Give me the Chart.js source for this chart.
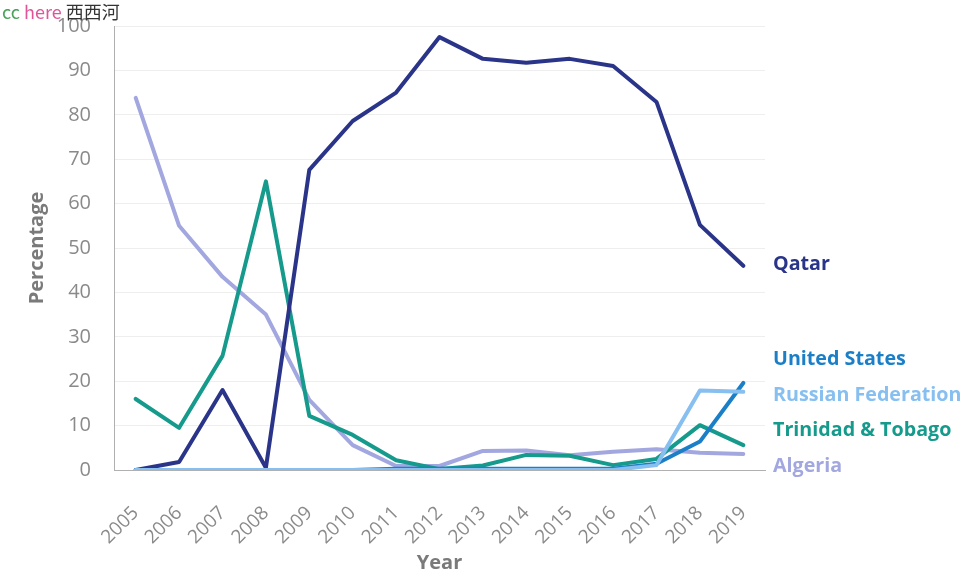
<!DOCTYPE html>
<html><head><meta charset="utf-8">
<script src="https://cdn.jsdelivr.net/npm/chart.js@4/dist/chart.umd.min.js"></script>
<style>
html,body{margin:0;padding:0;background:#fff;}
#wrap{position:relative;width:974px;height:582px;}
#wm{position:absolute;left:2px;top:0px;font-family:"Noto Sans CJK SC","Noto Sans",sans-serif;font-size:18px;line-height:22px;z-index:2;}
</style></head>
<body><div id="wrap"><div id="wm"><span style="color:#4aa35a">cc</span> <span style="color:#e0559a">here</span> <span style="color:#333">西西河</span></div>
<canvas id="c" width="974" height="582"></canvas></div>
<script>
const years = ["2005","2006","2007","2008","2009","2010","2011","2012","2013","2014","2015","2016","2017","2018","2019"];
const qatar = [0, 1.8, 18, 0.5, 67.6, 78.6, 85, 97.5, 92.6, 91.7, 92.6, 91, 82.9, 55.2, 46];
const unitedStates = [0, 0, 0, 0, 0, 0, 0.3, 0.3, 0.3, 0.3, 0.3, 0.3, 1.4, 6.4, 19.6];
const russia = [0, 0, 0, 0, 0, 0, 0, 0, 0, 0, 0, 0, 1.1, 17.9, 17.6];
const trinidad = [16, 9.5, 25.7, 65, 12.2, 7.9, 2.2, 0.2, 1, 3.4, 3.2, 1.1, 2.5, 10.1, 5.6];
const algeria = [83.8, 55, 43.5, 35, 15.8, 5.6, 0.9, 0.9, 4.3, 4.4, 3.3, 4.1, 4.7, 3.9, 3.6];
const yTicks = [0,10,20,30,40,50,60,70,80,90,100];
const seriesNames = ["Qatar","United States","Russian Federation","Trinidad & Tobago","Algeria"];

const colors = {q:"#2a3589", us:"#1b7fc8", ru:"#86bff0", tt:"#159a8c", al:"#a2a7e0"};
const labelPlugin = {
  id:"endLabels",
  afterDraw(chart){
    const ctx = chart.ctx;
    ctx.save();
    ctx.font = "bold 19.7px 'Open Sans'";
    ctx.textBaseline = "middle";
    ctx.textAlign = "left";
    const x = 773;
    const items = [[seriesNames[0],colors.q,264],[seriesNames[1],colors.us,359],[seriesNames[2],colors.ru,395],[seriesNames[3],colors.tt,430],[seriesNames[4],colors.al,466]];
    for (const [t,c,y] of items){ ctx.fillStyle=c; ctx.fillText(t,x,y); }
    ctx.restore();
  }
};
const ds = (label,data,color,order)=>({label,data,borderColor:color,backgroundColor:color,borderWidth:4,pointRadius:0,tension:0,order,borderJoinStyle:"round",borderCapStyle:"round"});
new Chart(document.getElementById("c"),{
  type:"line",
  data:{labels:years,datasets:[
    ds(seriesNames[4],algeria,colors.al,5),
    ds(seriesNames[3],trinidad,colors.tt,4),
    ds(seriesNames[0],qatar,colors.q,3),
    ds(seriesNames[1],unitedStates,colors.us,2),
    ds(seriesNames[2],russia,colors.ru,1)
  ]},
  options:{
    responsive:false,animation:false,
    layout:{padding:{left:0,right:209,top:26,bottom:0}},
    plugins:{legend:{display:false},tooltip:{enabled:false}},
    scales:{
      x:{offset:true,
        afterFit(s){s.paddingLeft=0;s.paddingRight=0;s.height=112;},
        grid:{display:false,drawTicks:false},
        border:{color:"#b0b0b0",width:1},
        ticks:{color:"#8a8a8a",font:{family:"'Open Sans'",size:19},maxRotation:45,minRotation:45,padding:32},
        title:{display:true,text:"Year",color:"#7a7a7a",font:{family:"'Open Sans'",size:20,weight:"bold"},padding:{top:0,bottom:7}}
      },
      y:{min:0,max:100,
        afterBuildTicks(s){s.ticks=yTicks.map(v=>({value:v}));},
        afterFit(s){s.width=114;s.paddingTop=0;s.paddingBottom=0;},
        grid:{color:"#eeeeee",drawTicks:false},
        border:{color:"#b0b0b0",width:1},
        ticks:{color:"#8a8a8a",font:{family:"'Open Sans'",size:20},padding:23},
        title:{display:true,text:"Percentage",color:"#7a7a7a",font:{family:"'Open Sans'",size:20,weight:"bold"},padding:{top:25,bottom:0}}
      }
    }
  },
  plugins:[labelPlugin]
});
</script></body></html>
